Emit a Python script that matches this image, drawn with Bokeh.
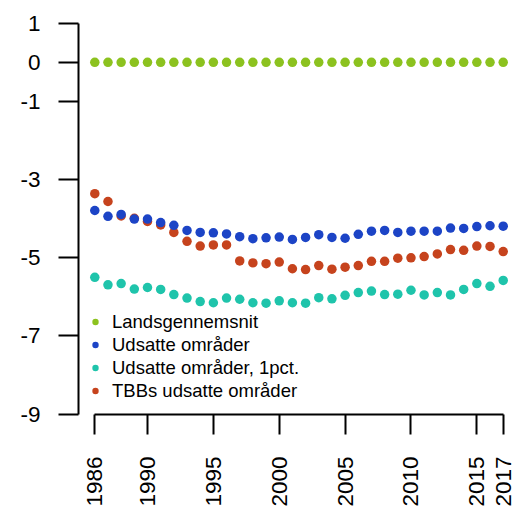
import math
from bokeh.plotting import figure
from bokeh.models import FixedTicker, Legend, LegendItem, Range1d, CustomJSTickFormatter
from bokeh.embed import file_html
from bokeh.resources import INLINE

years = list(range(1986, 2018))

landsgennemsnit = [0.0] * 32

udsatte = [-3.79, -3.94, -3.89, -4.01, -4.01, -4.10, -4.17, -4.30, -4.35, -4.36,
           -4.39, -4.46, -4.51, -4.49, -4.47, -4.53, -4.48, -4.41, -4.48, -4.50,
           -4.40, -4.32, -4.30, -4.35, -4.32, -4.32, -4.32, -4.24, -4.25, -4.20,
           -4.18, -4.19]

udsatte_1pct = [-5.50, -5.69, -5.66, -5.80, -5.76, -5.81, -5.94, -6.03, -6.12, -6.15,
                -6.03, -6.06, -6.15, -6.16, -6.10, -6.15, -6.16, -6.02, -6.05, -5.96,
                -5.89, -5.85, -5.94, -5.93, -5.83, -5.95, -5.89, -5.95, -5.81, -5.66,
                -5.73, -5.58]

tbb_udsatte = [-3.36, -3.56, -3.93, -3.99, -4.07, -4.16, -4.35, -4.58, -4.70, -4.67,
               -4.67, -5.08, -5.13, -5.15, -5.11, -5.28, -5.30, -5.20, -5.29, -5.24,
               -5.20, -5.09, -5.09, -5.01, -5.00, -4.97, -4.90, -4.79, -4.81, -4.70,
               -4.71, -4.84]

labels = ["Landsgennemsnit", "Udsatte områder", "Udsatte områder, 1pct.", "TBBs udsatte områder"]
colors = ["#8cc21f", "#1c44c6", "#1fc4ab", "#c6431d"]

x_ticks = [1986, 1990, 1995, 2000, 2005, 2010, 2015, 2017]
y_ticks = [1, 0, -1, -3, -5, -7, -9]

FONT = "Liberation Sans"

p = figure(frame_width=430, frame_height=404,
           min_border_left=78, min_border_top=10, min_border_right=8, min_border_bottom=0,
           x_range=Range1d(1984.763, 2017.402), y_range=Range1d(-9.008, 1.325),
           output_backend="svg", toolbar_location=None)

p.outline_line_color = None
p.xgrid.visible = False
p.ygrid.visible = False
p.background_fill_color = "white"
p.border_fill_color = "white"

r_g = p.scatter(years, landsgennemsnit, size=9.5, color=colors[0], line_color=None)
r_r = p.scatter(years, tbb_udsatte, size=9.5, color=colors[3], line_color=None)
r_t = p.scatter(years, udsatte_1pct, size=9.5, color=colors[2], line_color=None)
r_b = p.scatter(years, udsatte, size=9.5, color=colors[1], line_color=None)

for ax, ticks, bnds in ((p.xaxis[0], x_ticks, (1986, 2017)), (p.yaxis[0], y_ticks, (-9, 1))):
    ax.ticker = FixedTicker(ticks=ticks, minor_ticks=[])
    ax.bounds = bnds
    ax.axis_line_width = 2
    ax.axis_line_color = "black"
    ax.major_tick_line_width = 2
    ax.major_tick_line_color = "black"
    ax.major_tick_out = 20
    ax.major_tick_in = 0
    ax.minor_tick_line_color = None
    ax.major_label_text_font = FONT
    ax.major_label_text_font_size = "22.5px"
    ax.major_label_text_color = "black"
    ax.formatter = CustomJSTickFormatter(code="return String(tick);")

p.xaxis.major_label_orientation = math.pi / 2
p.xaxis.major_label_standoff = 22
p.yaxis.major_label_standoff = 18

legend = Legend(items=[LegendItem(label=labels[0], renderers=[r_g]),
                       LegendItem(label=labels[1], renderers=[r_b]),
                       LegendItem(label=labels[2], renderers=[r_t]),
                       LegendItem(label=labels[3], renderers=[r_r])],
                location=(9, 12), border_line_color=None, background_fill_alpha=0,
                padding=0, margin=0, spacing=0, glyph_width=16, glyph_height=23,
                label_height=23, label_standoff=9, label_text_font=FONT,
                label_text_font_size="18.5px", label_text_color="black")
p.add_layout(legend)

open("out.html", "w").write(file_html(p, INLINE))
